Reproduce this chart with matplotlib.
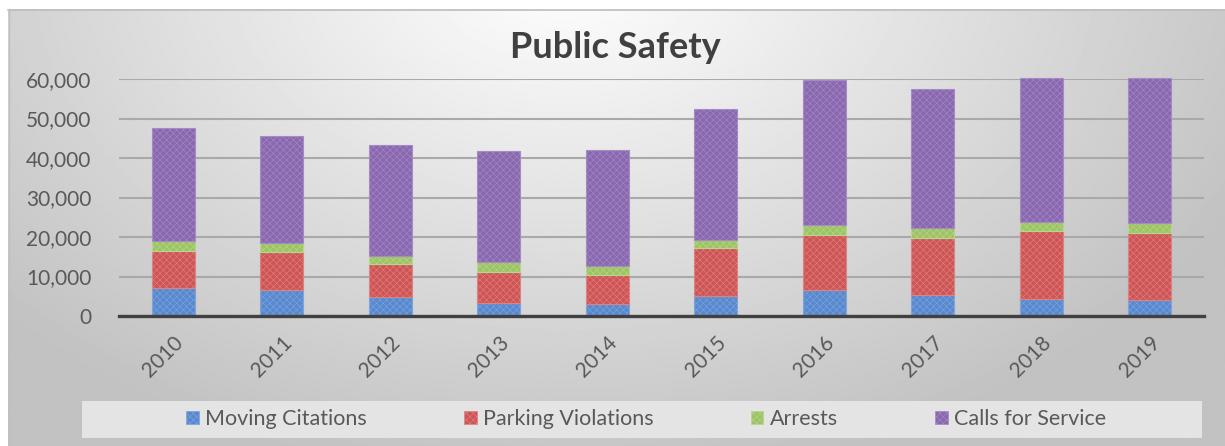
import matplotlib
matplotlib.use("Agg")
import matplotlib.pyplot as plt
import numpy as np
from matplotlib.patches import Rectangle, Patch
from matplotlib.ticker import FuncFormatter

# values
years = ["2010", "2011", "2012", "2013", "2014", "2015", "2016", "2017", "2018", "2019"]
moving_citations = [7200, 6600, 4800, 3300, 3050, 5100, 6600, 5250, 4400, 4050]
parking_violations = [9150, 9600, 8400, 7900, 7300, 12000, 13900, 14600, 17100, 17050]
arrests = [2550, 2350, 2050, 2550, 2200, 2100, 2600, 2400, 2300, 2450]
calls_for_service = [28600, 26950, 27950, 27950, 29500, 33300, 36700, 35300, 36500, 36750]

series_names = ["Moving Citations", "Parking Violations", "Arrests", "Calls for Service"]
colors = ["#5889cf", "#cf5555", "#9cc462", "#8968b0"]
hatch_cols = ["#7ea4db", "#dd8282", "#b7d690", "#a58ac4"]

plt.rcParams["font.family"] = ["Lato", "DejaVu Sans"]
plt.rcParams["hatch.linewidth"] = 0.4
text_col = "#595959"

W, H = 1225, 446
fig = plt.figure(figsize=(W / 100, H / 100), dpi=100)

# gradient background of the chart area
bg = fig.add_axes([0, 0, 1, 1], zorder=-10)
bg.set_xlim(0, W)
bg.set_ylim(H, 0)
bg.axis("off")
yy, xx = np.mgrid[0:H, 0:W]
r = np.sqrt(((xx - 560) / 700.0) ** 2 + ((yy + 40) / 480.0) ** 2)
shade = np.clip(1.0 - 0.22 * r, 0.76, 1.0)
bg.imshow(shade, cmap="gray", vmin=0, vmax=1, extent=[8, W, H, 9], aspect="auto")
bg.plot([8, W], [9.5, 9.5], color="#bdbdbd", lw=1.2)
bg.plot([8.5, 8.5], [9, H], color="#c0c0c0", lw=1)
# legend band
bg.add_patch(Rectangle((82, 401), 1120, 37, facecolor="#e4e4e4", edgecolor="none"))

ax = fig.add_axes([119 / W, 1 - 316 / H, (1204 - 119) / W, (316 - 79) / H])
ax.patch.set_alpha(0)
x = np.arange(len(years))
bottom = np.zeros(len(years))
for vals, name, c, hc in zip([moving_citations, parking_violations, arrests, calls_for_service],
                             series_names, colors, hatch_cols):
    ax.bar(x, vals, 0.4, bottom=bottom, color=c, edgecolor=hc, linewidth=0.8,
           hatch="xxxxx", label=name, zorder=3, clip_on=False)
    bottom += np.array(vals)

ax.set_xlim(-0.5, len(years) - 0.5)
ax.set_ylim(0, 60000)
ax.set_yticks(range(0, 60001, 10000))
ax.yaxis.set_major_formatter(FuncFormatter(lambda v, p: f"{int(v):,}"))
ax.grid(axis="y", color="#a9a9a9", lw=1.5, zorder=0)
ax.set_axisbelow(True)
for s in ["top", "right", "left"]:
    ax.spines[s].set_visible(False)
ax.spines["bottom"].set_color("#404040")
ax.spines["bottom"].set_linewidth(2.4)
ax.spines["bottom"].set_zorder(5)
ax.tick_params(axis="both", length=0, colors=text_col, labelsize=15)
ax.tick_params(axis="y", pad=20)
ax.set_xticks(x)
ax.set_xticklabels(years, rotation=45, ha="right", rotation_mode="anchor")
ax.tick_params(axis="x", pad=12)

fig.text(615 / W, 1 - 47 / H, "Public Safety", ha="center", va="center",
         fontsize=26, fontweight="bold", color="#404040")

handles = [Patch(facecolor=c, edgecolor=hc, hatch="xxxxx", linewidth=0.5)
           for c, hc in zip(colors, hatch_cols)]
fig.legend(handles, series_names, loc="center", bbox_to_anchor=(646 / W, 1 - 419 / H),
           ncol=4, frameon=False, fontsize=15.5, labelcolor=text_col,
           handlelength=0.6, handleheight=0.6, handletextpad=0.3, columnspacing=4.5)

fig.savefig("out.png", dpi=100)
